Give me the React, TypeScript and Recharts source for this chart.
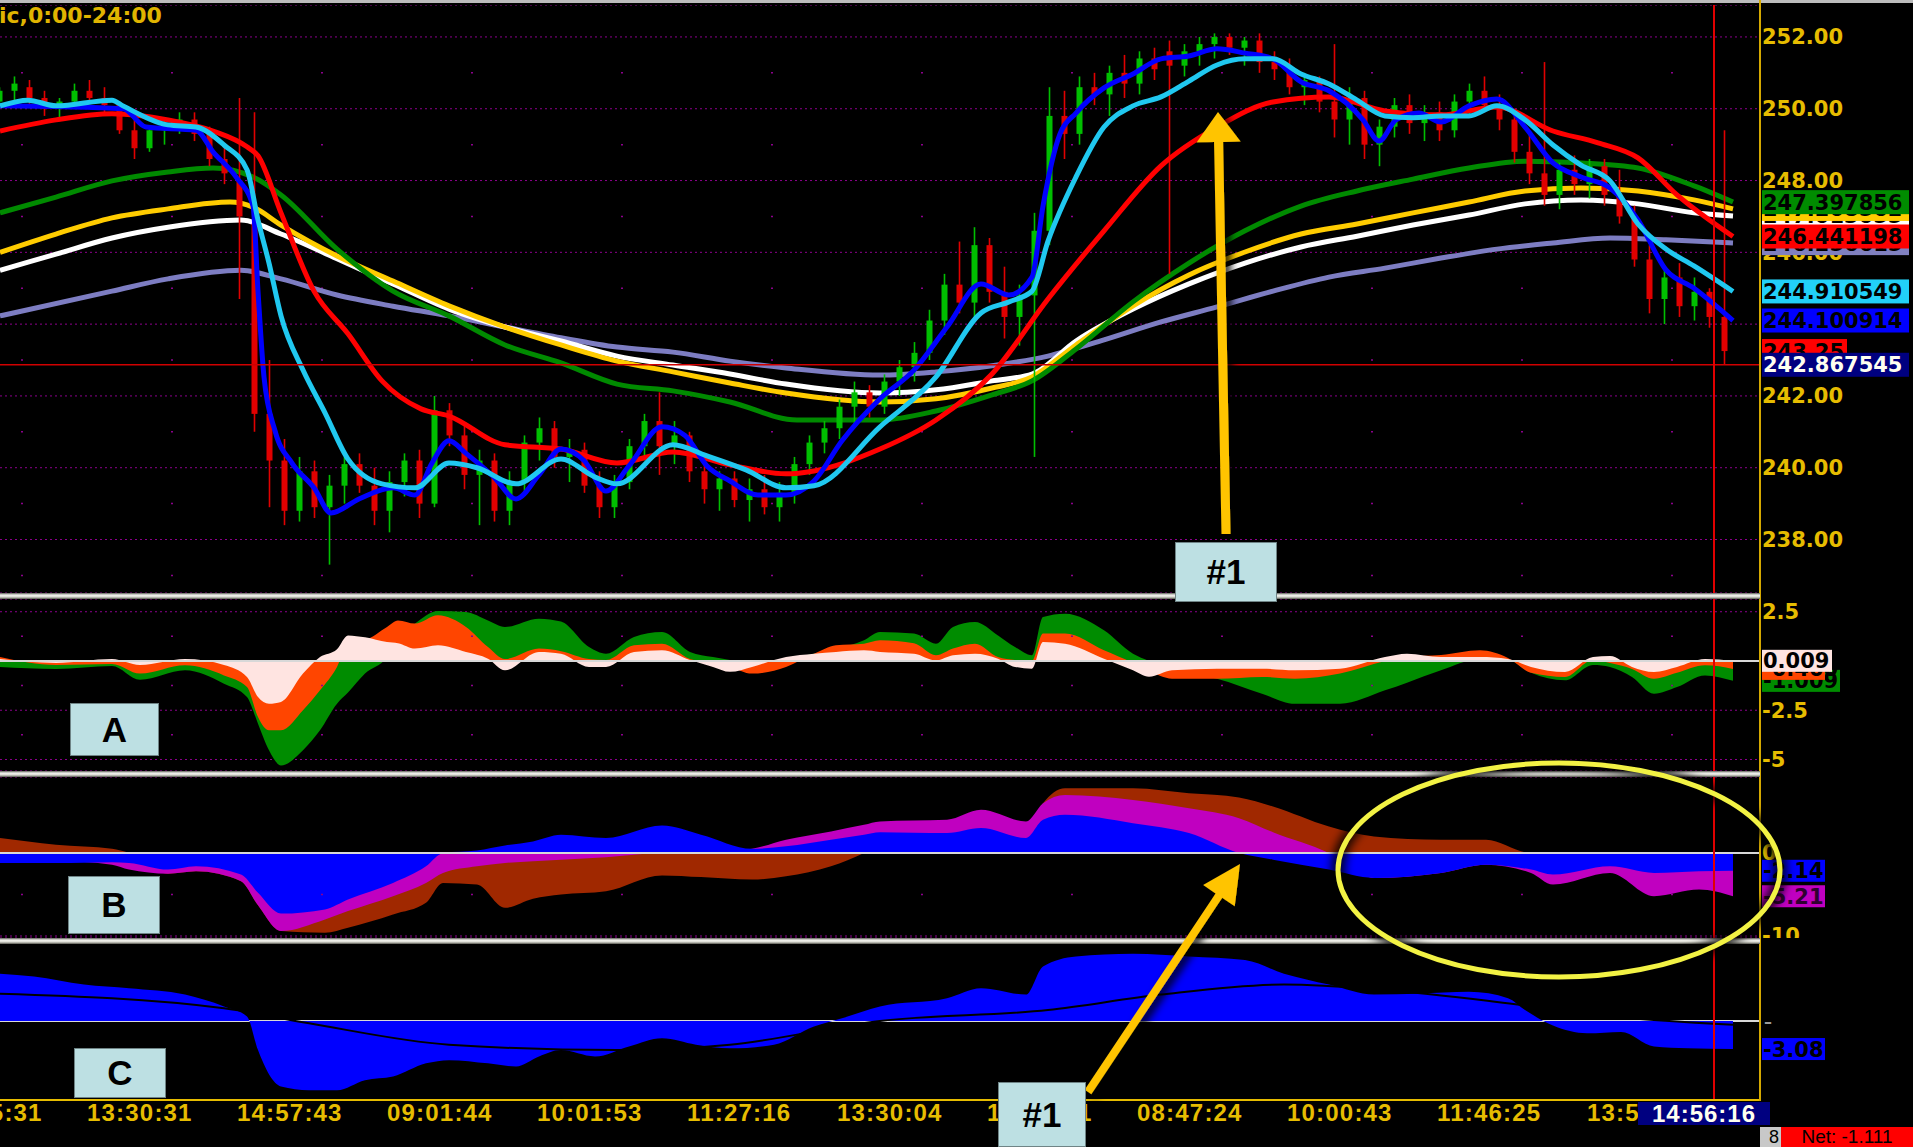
import React from 'react';
import { ComposedChart, Line, Area, Bar, XAxis, YAxis, CartesianGrid, ReferenceLine } from 'recharts';

// layout of the trading screen
const W = 1913;
const PLOT_W = 1760;
const AXIS_W = W - PLOT_W;
const X_DOMAIN: [number, number] = [0, 176];
const BAR_STEP = 1.5;
const CURSOR_T = 171.4;
const M0 = { top: 0, right: 0, bottom: 0, left: 0 };
const M_HIDDEN = { top: 0, right: AXIS_W, bottom: 0, left: 0 };

const GOLD = '#e6bc00';
const GRID = '#8c008c';
const UP = '#00bf00';
const DOWN = '#e00000';

type Pair = [number, number];

// price panel
const PRICE_DOMAIN: [number, number] = [236.51, 252.89];
const priceTicks = [238, 240, 242, 244, 246, 248, 250, 252];
const priceDotLevels = [237, 239, 241, 243, 245, 247, 249, 251];

// open, high, low, close
const candles: [number, number, number, number][] = [
  [250.2, 250.6, 250.0, 250.5], [250.5, 250.9, 250.2, 250.7], [250.6, 250.8, 250.1, 250.3], [250.3, 250.5, 249.8, 250.0],
  [250.0, 250.3, 249.7, 250.2], [250.2, 250.7, 250.0, 250.5], [250.5, 250.8, 250.2, 250.3], [250.3, 250.6, 249.9, 250.1],
  [250.1, 250.2, 249.3, 249.4], [249.4, 249.7, 248.6, 248.9], [248.9, 249.5, 248.8, 249.4], [249.4, 249.7, 249.0, 249.6],
  [249.6, 249.9, 249.3, 249.7], [249.7, 249.9, 249.1, 249.3], [249.3, 249.5, 248.4, 248.6], [248.6, 249.0, 247.9, 248.2],
  [248.0, 250.3, 244.7, 247.0], [246.8, 249.9, 241.0, 241.5], [241.5, 243.0, 238.9, 240.2], [240.2, 240.8, 238.4, 238.8],
  [238.8, 240.3, 238.5, 239.9], [239.9, 240.2, 238.6, 238.9], [238.9, 239.8, 237.3, 239.5], [239.5, 240.3, 239.0, 240.1],
  [240.1, 240.4, 239.3, 239.5], [239.5, 240.0, 238.4, 238.8], [238.8, 239.9, 238.2, 239.6], [239.6, 240.4, 239.2, 240.2],
  [240.2, 240.5, 238.6, 239.0], [239.0, 242.0, 238.9, 241.6], [241.6, 241.8, 240.6, 240.9], [240.9, 241.2, 239.4, 239.8],
  [239.8, 240.5, 238.4, 240.2], [240.2, 240.4, 238.5, 238.8], [238.8, 239.9, 238.4, 239.6], [239.6, 240.9, 239.3, 240.7],
  [240.7, 241.4, 240.2, 241.1], [241.1, 241.3, 240.0, 240.3], [240.3, 240.8, 239.6, 240.5], [240.5, 240.7, 239.3, 239.5],
  [239.5, 239.9, 238.6, 238.9], [238.9, 239.8, 238.6, 239.6], [239.6, 240.8, 239.4, 240.6], [240.6, 241.5, 240.2, 241.3],
  [241.3, 242.1, 239.8, 240.6], [240.6, 241.3, 240.1, 240.9], [240.9, 241.0, 239.6, 239.9], [239.9, 240.3, 239.0, 239.4],
  [239.4, 239.9, 238.8, 239.7], [239.7, 239.9, 238.9, 239.1], [239.1, 239.7, 238.5, 239.4], [239.4, 239.8, 238.7, 238.9],
  [238.9, 239.6, 238.5, 239.3], [239.3, 240.3, 239.0, 240.1], [240.1, 240.9, 239.8, 240.7], [240.7, 241.3, 240.4, 241.1],
  [241.1, 241.9, 240.8, 241.7], [241.7, 242.4, 241.2, 242.1], [242.1, 242.3, 241.4, 241.7], [241.7, 242.6, 241.5, 242.4],
  [242.4, 243.0, 242.0, 242.8], [242.8, 243.5, 242.4, 243.2], [243.2, 244.4, 243.0, 244.1], [244.1, 245.4, 243.7, 245.1],
  [245.1, 246.3, 244.3, 244.6], [244.6, 246.7, 244.2, 246.2], [246.2, 246.4, 244.6, 244.9], [244.9, 245.6, 243.6, 244.2],
  [244.2, 245.1, 243.4, 244.8], [244.8, 247.1, 240.3, 246.6], [246.6, 250.6, 246.2, 249.8], [249.8, 250.5, 248.6, 249.3],
  [249.3, 250.9, 249.0, 250.6], [250.6, 251.0, 250.1, 250.4], [250.4, 251.2, 249.8, 251.0], [251.0, 251.5, 250.3, 250.7],
  [250.7, 251.6, 250.4, 251.4], [251.4, 251.7, 250.8, 251.1], [251.6, 251.9, 245.4, 251.2], [251.2, 251.8, 250.9, 251.6],
  [251.6, 252.0, 251.2, 251.8], [251.8, 252.1, 251.4, 252.0], [252.0, 252.1, 251.5, 251.7], [251.7, 252.0, 251.2, 251.9],
  [251.9, 252.1, 251.0, 251.3], [251.3, 251.6, 250.8, 251.1], [251.1, 251.4, 250.4, 250.6], [250.6, 251.0, 250.1, 250.8],
  [250.8, 250.9, 249.9, 250.2], [250.2, 251.8, 249.2, 249.7], [249.7, 250.6, 249.0, 250.3], [250.3, 250.5, 248.6, 249.0],
  [249.0, 249.7, 248.4, 249.5], [249.5, 250.3, 249.2, 250.1], [250.1, 250.4, 249.3, 249.6], [249.6, 250.1, 249.1, 249.9],
  [249.9, 250.2, 249.1, 249.4], [249.4, 250.4, 249.2, 250.2], [250.2, 250.7, 249.8, 250.5], [250.5, 250.9, 249.9, 250.1],
  [250.1, 250.4, 249.4, 249.7], [249.7, 249.9, 248.5, 248.8], [248.8, 249.3, 247.9, 248.2], [248.2, 251.3, 247.3, 247.6],
  [247.6, 248.5, 247.2, 248.3], [248.3, 248.7, 247.6, 247.9], [247.9, 248.6, 247.5, 248.4], [248.4, 248.6, 247.3, 247.6],
  [247.6, 248.3, 246.8, 247.0], [247.0, 247.3, 245.6, 245.8], [245.8, 246.2, 244.3, 244.7], [244.7, 245.6, 244.0, 245.3],
  [245.3, 245.7, 244.2, 244.5], [244.5, 245.3, 244.1, 244.9], [244.9, 245.0, 243.9, 244.2], [244.2, 249.4, 242.87, 243.25],
];

// moving averages as [time, value]
const redMA: Pair[] = [
  [0, 249.38], [5.6, 249.69], [11.2, 249.86], [16.8, 249.69], [21.3, 249.38], [24.7, 248.94], [25.8, 248.69], [28.1, 247.1],
  [31.4, 244.92], [34.8, 243.73], [38.2, 242.42], [42.1, 241.64], [44.9, 241.44], [50.5, 240.64], [56.1, 240.52], [61.7, 240.13],
  [67.3, 240.44], [73, 240.08], [78.6, 239.83], [81.4, 239.91], [88, 240.52], [93.6, 241.33], [99.2, 242.61], [104.8, 244.7],
  [110.4, 246.6], [116.1, 248.41], [121.7, 249.49], [127.3, 250.19], [132.9, 250.33], [138.5, 249.94], [144.1, 249.83],
  [149.7, 250.05], [155.3, 249.38], [159.8, 249.05], [163.8, 248.63], [167.7, 247.6], [173.3, 246.44],
];
const cyanMA: Pair[] = [
  [0, 250.08], [2.8, 250.24], [5.6, 250.08], [11.2, 250.24], [12.3, 250.08], [16.8, 249.55], [19.6, 249.49], [22.4, 248.99],
  [24.7, 248.3], [25.8, 246.9], [26.9, 245.7], [28.1, 244.23], [30.3, 242.72], [32.5, 241.53], [34.8, 240.24], [38.2, 239.55],
  [41.5, 239.44], [44.9, 240.13], [47.7, 240.0], [51.6, 239.55], [56.1, 240.24], [59.5, 239.74], [61.7, 239.55], [67.3, 240.64],
  [70.7, 240.33], [74.6, 239.94], [78.6, 239.44], [81.4, 239.5], [88, 241.14], [93.6, 242.53], [98.1, 244.31], [100.9, 244.62],
  [103.2, 244.92], [104.8, 246.31], [107.6, 248.1], [110.4, 249.49], [113.3, 250.08], [116.1, 250.33], [118.9, 250.77],
  [121.7, 251.22], [124.5, 251.39], [127.3, 251.39], [130.1, 250.97], [132.9, 250.69], [135.7, 250.24], [138.5, 249.8],
  [141.3, 249.75], [144.1, 249.8], [146.9, 249.8], [149.7, 250.08], [152.5, 249.69], [155.3, 248.99], [158.1, 248.43],
  [161, 247.99], [163.8, 246.79], [166.6, 246.09], [169.4, 245.62], [173.3, 244.91],
];
const blueMA: Pair[] = [
  [0, 250.08], [12.3, 250.0], [14.6, 249.49], [19.6, 249.4], [21.3, 248.8], [23.6, 248.1], [25.3, 247.29], [25.8, 244.92],
  [26.4, 242.53], [27.5, 241.03], [29.2, 240.13], [31.4, 239.44], [33.1, 238.74], [35.9, 239.13], [39.3, 239.44], [41.5, 239.24],
  [43.2, 240.13], [44.9, 240.75], [46.6, 240.4], [49.4, 239.74], [51.6, 239.13], [53.9, 239.8], [56.1, 240.52], [58.4, 240.2],
  [60.6, 239.35], [62.9, 240.05], [66.2, 241.14], [68.5, 240.9], [70.7, 240.05], [73, 239.63], [75.8, 239.24], [78.6, 239.24],
  [81.4, 239.63], [84.2, 240.75], [88, 241.92], [91.4, 242.72], [94.7, 243.92], [98.1, 245.12], [100.9, 244.81], [103.2, 245.31],
  [104.3, 247.29], [106, 249.3], [107.6, 249.88], [110.4, 250.58], [113.3, 250.97], [116.1, 251.39], [118.9, 251.47],
  [121.7, 251.67], [124.5, 251.55], [127.3, 251.39], [130.1, 250.75], [132.9, 250.5], [136.3, 249.69], [137.9, 249.1],
  [139.6, 249.69], [141.9, 249.88], [144.1, 249.63], [146.9, 250.08], [149.7, 250.27], [152.5, 249.49], [155.3, 248.49],
  [158.1, 248.1], [161, 247.79], [163.8, 246.9], [166.6, 245.51], [169.4, 245.0], [173.3, 244.1],
];
const greenMA: Pair[] = [
  [0, 247.1], [5.6, 247.54], [11.2, 247.99], [16.8, 248.24], [21.3, 248.35], [25.3, 248.1], [28.1, 247.6], [33.7, 246.09],
  [39.3, 244.92], [44.9, 244.23], [50.5, 243.42], [56.1, 242.92], [61.7, 242.33], [67.3, 242.14], [73, 241.83], [79.7, 241.33],
  [88, 241.33], [93.6, 241.58], [99.2, 242.03], [103.2, 242.42], [107.6, 243.31], [113.3, 244.62], [118.9, 245.7], [124.5, 246.6],
  [130.1, 247.29], [135.7, 247.71], [141.3, 248.04], [146.9, 248.35], [152.5, 248.54], [158.1, 248.49], [163.8, 248.35],
  [169.4, 247.85], [173.3, 247.4],
];
const yellowMA: Pair[] = [
  [0, 246.0], [5.6, 246.51], [11.2, 246.96], [16.8, 247.21], [23, 247.4], [25.3, 247.26], [28.1, 246.76], [33.7, 245.9],
  [39.3, 245.2], [44.9, 244.51], [50.5, 243.92], [56.1, 243.42], [61.7, 242.97], [67.3, 242.67], [73, 242.36], [78.6, 242.08],
  [88, 241.83], [93.6, 241.92], [99.2, 242.22], [103.2, 242.53], [107.6, 243.42], [113.3, 244.51], [118.9, 245.37], [124.5, 246.01],
  [130.1, 246.51], [135.7, 246.79], [141.3, 247.1], [146.9, 247.4], [152.5, 247.71], [158.1, 247.79], [163.8, 247.71],
  [169.4, 247.46], [173.3, 247.21],
];
const whiteMA: Pair[] = [
  [0, 245.5], [5.6, 245.95], [11.2, 246.4], [16.8, 246.7], [24.1, 246.9], [28.1, 246.51], [33.7, 245.82], [39.3, 245.12],
  [44.9, 244.42], [50.5, 243.92], [56.1, 243.53], [61.7, 243.11], [67.3, 242.86], [73, 242.61], [78.6, 242.33], [88, 242.08],
  [93.6, 242.17], [99.2, 242.42], [103.2, 242.61], [107.6, 243.53], [113.3, 244.42], [118.9, 245.12], [124.5, 245.7],
  [130.1, 246.15], [135.7, 246.45], [141.3, 246.76], [146.9, 247.04], [152.5, 247.35], [158.1, 247.46], [163.8, 247.35],
  [169.4, 247.1], [173.3, 247.01],
];
const lavMA: Pair[] = [
  [0, 244.23], [11.2, 244.92], [16.8, 245.26], [24.1, 245.5], [28.1, 245.26], [33.7, 244.81], [39.3, 244.5], [44.9, 244.23],
  [50.5, 243.92], [56.1, 243.62], [61.7, 243.36], [67.3, 243.22], [73, 242.97], [78.6, 242.78], [88, 242.58], [93.6, 242.67],
  [99.2, 242.84], [104.8, 243.11], [110.4, 243.56], [116.1, 244.06], [121.7, 244.48], [127.3, 244.92], [132.9, 245.31],
  [138.5, 245.56], [144.1, 245.84], [149.7, 246.09], [155.3, 246.26], [161, 246.4], [166.6, 246.35], [173.3, 246.26],
];

// panel A
const A_DOMAIN: [number, number] = [-5.584, 3.147];
const aT = [0, 5.6, 11.2, 14, 18.5, 22.4, 24.7, 25.8, 26.9, 28.1, 30.3, 32, 33.7, 34.8, 36.5, 38.7, 39.8, 41.5, 43.8, 46.6,
  48.8, 50.5, 53.9, 56.1, 58.9, 60.6, 63.4, 66.2, 69, 71.3, 73, 75.2, 78.6, 81.4, 83.6, 86.4, 88, 91.4, 93.6, 95.3,
  97.5, 99.8, 101.5, 103.2, 104.3, 106.5, 110.4, 113.3, 114.9, 117.2, 121.7, 126.2, 129.5, 134, 138.5, 140.7, 144.1, 148, 150.8, 153.1,
  156.5, 159.3, 161, 163.2, 165.4, 167.7, 170.5, 173.3];
const aGreen = [-0.3, -0.4, -0.25, -0.95, -0.47, -1.15, -1.83, -3.18, -4.53, -5.3, -4.53, -3.52, -2.17, -1.6, -0.64, 0.2, 1.2, 1.9, 2.54, 2.49,
  2.06, 1.73, 2.15, 2.0, 0.71, 0.37, 1.22, 1.47, 0.46, 0.2, 0.05, -0.1, 0.1, 0.37, 0.6, 1.05, 1.47, 1.39, 0.88, 1.73,
  1.98, 1.3, 0.71, 0.29, 2.23, 2.4, 1.56, 0.37, 0, -0.5, -0.9, -1.66, -2.17, -2.17, -1.49, -1.1, -0.47, 0.1, 0.05, -0.6,
  -0.98, -0.2, -0.3, -0.81, -1.66, -1.32, -0.73, -1.009];
const aOrange = [0.2, -0.2, -0.15, -0.64, -0.22, -0.73, -1.32, -2.84, -3.52, -3.52, -2.5, -1.49, -0.3, 0.9, 1.05, 1.73, 2.06, 1.9, 2.32, 1.73,
  0.71, 0.1, 0.63, 0.5, 0.1, 0.05, 0.8, 0.88, 0.1, -0.1, -0.3, -0.64, -0.3, 0.37, 0.8, 0.88, 1.05, 0.9, 0.29, 0.63,
  0.88, 0.2, 0.05, 0, 1.39, 1.39, 0.54, -0.1, -0.5, -0.9, -0.9, -0.81, -0.9, -0.64, 0, 0.2, 0.3, 0.54, 0.15, -0.6,
  -0.81, 0.05, -0.1, -0.4, -0.9, -0.6, -0.22, -0.4];
const aPink = [0.1, -0.1, 0.1, -0.2, 0.1, -0.2, -0.81, -1.83, -2.17, -2.08, -0.64, 0.2, 0.6, 1.3, 1.2, 0.96, 0.9, 0.63, 0.8, 0.46,
  0.12, -0.47, 0.46, 0.37, -0.3, -0.3, 0.46, 0.54, 0.05, -0.3, -0.55, -0.3, 0.2, 0.37, 0.46, 0.54, 0.46, 0.37, 0.03, 0.29,
  0.37, 0.12, -0.3, -0.39, 0.96, 0.88, 0.12, -0.47, -0.8, -0.47, -0.39, -0.39, -0.47, -0.39, 0.2, 0.37, 0.2, 0.2, 0.1, -0.3,
  -0.56, 0.2, 0.25, -0.3, -0.56, -0.3, 0.1, 0.009];

// panel B
const B_DOMAIN: [number, number] = [-10.24, 9.157];
const bT = [0, 5.6, 11.2, 12.9, 16.8, 19.6, 24.1, 25.8, 28.1, 32.5, 34.8, 39.3, 42.6, 44.3, 47.7, 50.5, 53.3, 56.1, 60.6, 66.2,
  70.1, 75.2, 78.6, 83.1, 86.4, 88, 94.7, 98.1, 102.6, 104.3, 106.5, 113.3, 118.9, 123.9, 127.3, 132.9, 137.4, 144.1, 148.6, 153.1,
  155.3, 161, 165.4, 169.9, 173.3];
const bBrown = [1.8, 1.0, 0.5, 0, -2.5, -2.2, -3.4, -6.3, -9.4, -9.6, -9.0, -7.4, -6.0, -3.6, -3.8, -6.6, -5.5, -5.0, -4.6, -2.7,
  -2.9, -3.2, -2.8, -1.6, 0, 1.0, 2.0, 3.0, 2.5, 6.0, 7.8, 7.8, 7.2, 6.7, 5.6, 3.2, 2.0, 1.6, 1.6, 0,
  0, 0, 0, 0, 0];
const bMagenta = [-1.0, -1.0, -1.4, -2.0, -2.5, -2.2, -3.4, -6.3, -9.4, -8.0, -7.0, -5.2, -3.6, -2.4, -1.6, -1.2, -1.0, -0.8, -0.5, 0,
  0, 0.5, 1.6, 2.6, 3.4, 3.8, 4.0, 5.2, 3.8, 6.0, 7.0, 6.4, 5.4, 4.2, 2.5, 0, -3.0, -2.4, -1.4, -2.4,
  -3.8, -2.4, -5.2, -4.4, -5.21];
const bBlue = [-1.2, -1.2, -1.1, -1.2, -2.0, -1.6, -2.6, -4.8, -7.3, -6.8, -5.6, -3.6, -1.6, 0, 0.3, 0.9, 1.4, 2.2, 1.8, 3.3,
  2.2, 0.5, 0.8, 1.6, 2.2, 2.5, 2.4, 3.0, 1.8, 4.0, 4.6, 3.6, 2.4, 0, -0.8, -2.0, -3.0, -2.4, -1.4, -2.0,
  -2.6, -1.6, -2.4, -2.2, -2.14];

// panel C
const C_DOMAIN: [number, number] = [-8.68, 8.46];
const cHist: Pair[] = [
  [0, 5.2], [3.4, 4.9], [8.4, 4.0], [12.9, 3.6], [18.5, 2.9], [22.4, 1.6], [24.7, 0.5], [25.8, -3.2], [28.1, -7.2], [30.9, -7.6],
  [33.7, -7.6], [36.5, -6.5], [39.3, -6.1], [42.6, -4.65], [44.9, -4.3], [48.8, -4.65], [51.6, -5.0], [53.9, -3.9], [56.1, -3.2],
  [59.5, -3.9], [62.9, -2.8], [66.2, -1.9], [69.6, -2.6], [73, -3.0], [77.4, -2.6], [81.4, -0.6], [84.2, 0.3], [88, 1.6],
  [94.7, 2.5], [98.1, 3.6], [102.6, 2.9], [104.3, 6.0], [107.6, 7.1], [113.3, 7.4], [118.9, 7.1], [124.5, 6.7], [128.4, 5.2],
  [132.9, 4.0], [137.4, 2.9], [141.9, 3.0], [146.9, 3.2], [150.8, 2.5], [152.5, 1.2], [155.3, -0.5], [158.7, -1.35],
  [162.1, -1.2], [165.4, -2.8], [168.8, -3.0], [173.3, -3.08],
];
const cSignal: Pair[] = [
  [0, 3.0], [22.4, 1.4], [30.9, -0.25], [44.9, -2.6], [61.7, -3.2], [73, -2.6], [88, 0], [104.8, 1.2], [116.1, 2.9],
  [128.4, 4.0], [138.5, 3.4], [149.7, 2.1], [161, 0.5], [173.3, -0.4],
];

const timeTicks = [-6.3, 8.7, 23.7, 38.7, 53.7, 68.7, 83.7, 98.7, 113.7, 128.7, 143.7, 158.7];
const timeLabels = ['12:05:31', '13:30:31', '14:57:43', '09:01:44', '10:01:53', '11:27:16', '13:30:04', '14:58:51', '08:47:24', '10:00:43', '11:46:25', '13:54:10'];

function mergePairs(series: Record<string, Pair[]>) {
  const rows = new Map<number, any>();
  Object.entries(series).forEach(([key, pairs]) => {
    pairs.forEach(([t, v]) => {
      const row = rows.get(t) ?? { t };
      row[key] = v;
      rows.set(t, row);
    });
  });
  return [...rows.values()].sort((a, b) => a.t - b.t);
}

const tickFont = { fill: GOLD, fontSize: 21, fontWeight: 700, fontFamily: 'DejaVu Sans' };

const Candle = (props: any) => {
  const { x, y, width, height, payload } = props;
  if (!payload || payload.o == null || !isFinite(y) || !isFinite(height)) return <g />;
  const top = height >= 0 ? y : y + height;
  const h = Math.abs(height);
  const span = payload.h - payload.l || 1;
  const py = (v: number) => top + ((payload.h - v) / span) * h;
  const color = payload.c >= payload.o ? UP : DOWN;
  const cx = x + width / 2;
  const bTop = py(Math.max(payload.o, payload.c));
  const bBot = py(Math.min(payload.o, payload.c));
  return (
    <g>
      <line x1={cx} x2={cx} y1={top} y2={top + h} stroke={color} strokeWidth={1.6} />
      <rect x={x} y={bTop} width={width} height={Math.max(bBot - bTop, 2)} fill={color} />
    </g>
  );
};

const Tag = ({ viewBox, text, bg, fg = '#000', w, h = 24 }: any) => {
  if (!viewBox) return null;
  const x = viewBox.x + viewBox.width + 2;
  const y = viewBox.y;
  return (
    <g>
      <rect x={x} y={y - h / 2} width={w} height={h} fill={bg} />
      <text x={x + 1} y={y + 7.5} fill={fg} fontSize={21} fontWeight={700} fontFamily="DejaVu Sans">{text}</text>
    </g>
  );
};

const TimeTick = ({ x, y, payload }: any) => {
  const i = timeTicks.indexOf(payload.value);
  return (
    <text x={x} y={y + 21} fill={GOLD} fontSize={24} fontWeight={700} fontFamily="Liberation Sans, Arial" letterSpacing={1.2} textAnchor="start">
      {timeLabels[i] ?? ''}
    </text>
  );
};

const cursor = <ReferenceLine x={CURSOR_T} stroke="#e00000" strokeWidth={2} />;

function dotLines(levels: number[]) {
  return levels.map((v) => (
    <ReferenceLine key={`dot-${v}`} y={v} stroke={GRID} strokeWidth={1.5} strokeDasharray="2 148" strokeDashoffset={63} />
  ));
}

const Sep = ({ top }: { top: number }) => (
  <div style={{ position: 'absolute', left: 0, top, width: PLOT_W, height: 6, background: 'linear-gradient(#5e5e58, #f2f2ee 35%, #dcdcd4 65%, #55554e)' }} />
);

const Note = ({ left, top, w, h, text }: any) => (
  <div style={{ position: 'absolute', left, top, width: w, height: h, background: '#bde0e3', border: '1px solid #6f8486', boxSizing: 'border-box', display: 'flex', alignItems: 'center', justifyContent: 'center', fontFamily: 'Liberation Sans, Arial, sans-serif', fontWeight: 700, fontSize: 35, color: '#000' }}>
    {text}
  </div>
);

function arrowPoints(x1: number, y1: number, x2: number, y2: number, shaft: number, headLen: number, headHalf: number) {
  const len = Math.hypot(x2 - x1, y2 - y1);
  const ux = (x2 - x1) / len;
  const uy = (y2 - y1) / len;
  const nx = -uy;
  const ny = ux;
  const bx = x2 - ux * headLen;
  const by = y2 - uy * headLen;
  const pts = [
    [x1 + nx * shaft, y1 + ny * shaft], [bx + nx * shaft, by + ny * shaft], [bx + nx * headHalf, by + ny * headHalf], [x2, y2],
    [bx - nx * headHalf, by - ny * headHalf], [bx - nx * shaft, by - ny * shaft], [x1 - nx * shaft, y1 - ny * shaft],
  ];
  return pts.map((p) => p.join(',')).join(' ');
}

export default function App() {
  const backRows = mergePairs({ lav: lavMA, white: whiteMA, yellow: yellowMA, green: greenMA });
  const frontRows = mergePairs({ red: redMA, blue: blueMA, cyan: cyanMA });
  const candleRows = candles.map(([o, h, l, c], i) => ({ t: i * BAR_STEP, o, h, l, c, range: [l, h] }));
  const aRows = aT.map((t, i) => ({ t, green: aGreen[i], orange: aOrange[i], pink: aPink[i] }));
  const bRows = bT.map((t, i) => ({ t, brown: bBrown[i], magenta: bMagenta[i], blue: bBlue[i] }));
  const cRows = mergePairs({ hist: cHist, sig: cSignal });

  const maLine = (key: string, color: string) => (
    <Line key={key} dataKey={key} type="monotone" stroke={color} strokeWidth={5} dot={false} activeDot={false} connectNulls isAnimationActive={false} />
  );
  const hiddenX = <XAxis type="number" dataKey="t" domain={X_DOMAIN} allowDataOverflow hide />;

  return (
    <div style={{ position: 'relative', width: W, height: 1147, background: '#000', overflow: 'hidden' }}>
      <style>{'body{margin:0;background:#000}'}</style>

      {/* price panel: grid, axis, slow averages */}
      <div style={{ position: 'absolute', left: 0, top: 5 }}>
        <ComposedChart width={W} height={588} data={backRows} margin={M0}>
          <CartesianGrid vertical={false} stroke={GRID} strokeDasharray="2 3" />
          {hiddenX}
          <YAxis orientation="right" width={AXIS_W} domain={PRICE_DOMAIN} ticks={priceTicks} allowDataOverflow interval={0}
            axisLine={false} tickLine={false} tickSize={0} tickMargin={2} tick={tickFont} tickFormatter={(v: number) => v.toFixed(2)} />
          {dotLines(priceDotLevels)}
          {maLine('lav', '#7d7dc2')}
          {maLine('white', '#ffffff')}
          {maLine('yellow', '#ffcc00')}
          {maLine('green', '#008a00')}
        </ComposedChart>
      </div>

      {/* candles */}
      <div style={{ position: 'absolute', left: 0, top: 5 }}>
        <ComposedChart width={W} height={588} data={candleRows} margin={M_HIDDEN}>
          {hiddenX}
          <YAxis domain={PRICE_DOMAIN} allowDataOverflow hide />
          <Bar dataKey="range" barSize={6} shape={(p: any) => <Candle {...p} />} isAnimationActive={false} />
        </ComposedChart>
      </div>

      {/* fast averages and price tags */}
      <div style={{ position: 'absolute', left: 0, top: 5 }}>
        <ComposedChart width={W} height={588} data={frontRows} margin={M_HIDDEN}>
          {hiddenX}
          <YAxis domain={PRICE_DOMAIN} allowDataOverflow hide />
          {maLine('red', '#ff0000')}
          {maLine('blue', '#0000ff')}
          {maLine('cyan', '#20c8f0')}
          <ReferenceLine y={242.867545} stroke="#d00000" strokeWidth={1.5} />
          {cursor}
          <ReferenceLine y={246.256615} stroke="none" label={<Tag text="246.256615" bg="#8080c0" w={147} />} />
          <ReferenceLine y={247.013055} stroke="none" label={<Tag text="247.013055" bg="#ffffff" w={147} />} />
          <ReferenceLine y={247.208562} stroke="none" label={<Tag text="247.208562" bg="#ffcc00" w={147} />} />
          <ReferenceLine y={247.397856} stroke="none" label={<Tag text="247.397856" bg="#008c00" w={147} />} />
          <ReferenceLine y={246.441198} stroke="none" label={<Tag text="246.441198" bg="#ff0000" w={147} />} />
          <ReferenceLine y={244.910549} stroke="none" label={<Tag text="244.910549" bg="#22d0f8" w={147} />} />
          <ReferenceLine y={244.100914} stroke="none" label={<Tag text="244.100914" bg="#0000ff" w={147} />} />
          <ReferenceLine y={243.25} stroke="none" label={<Tag text="243.25" bg="#ff0000" w={85} />} />
          <ReferenceLine y={242.867545} stroke="none" label={<Tag text="242.867545" bg="#000080" fg="#fffff0" w={147} />} />
        </ComposedChart>
      </div>

      {/* panel A */}
      <div style={{ position: 'absolute', left: 0, top: 599 }}>
        <ComposedChart width={W} height={172} data={aRows} margin={M0}>
          <CartesianGrid vertical={false} stroke={GRID} strokeDasharray="2 3" />
          {hiddenX}
          <YAxis orientation="right" width={AXIS_W} domain={A_DOMAIN} ticks={[2.5, 0, -2.5, -5]} allowDataOverflow interval={0}
            axisLine={false} tickLine={false} tickSize={0} tickMargin={2} tick={tickFont} tickFormatter={(v: number) => (v === 0 ? '' : String(v))} />
          {dotLines([1.25, -1.25, -3.75])}
          <Area dataKey="green" type="monotone" baseValue={0} stroke="none" fill="#008c00" fillOpacity={1} isAnimationActive={false} />
          <Area dataKey="orange" type="monotone" baseValue={0} stroke="none" fill="#ff4500" fillOpacity={1} isAnimationActive={false} />
          <Area dataKey="pink" type="monotone" baseValue={0} stroke="none" fill="#ffe4e1" fillOpacity={1} isAnimationActive={false} />
          <ReferenceLine y={0} stroke="#d8d8d8" strokeWidth={2} />
          {cursor}
          <ReferenceLine y={-1.009} stroke="none" label={<Tag text="-1.009" bg="#008c00" w={78} h={22} />} />
          <ReferenceLine y={-0.4} stroke="none" label={<Tag text="-0.400" bg="#ff4500" w={63} h={22} />} />
          <ReferenceLine y={0.009} stroke="none" label={<Tag text="0.009" bg="#ffe4e1" w={70} h={22} />} />
        </ComposedChart>
      </div>

      {/* panel B */}
      <div style={{ position: 'absolute', left: 0, top: 777 }}>
        <ComposedChart width={W} height={161} data={bRows} margin={M0}>
          <CartesianGrid vertical={false} stroke={GRID} strokeDasharray="2 3" />
          {hiddenX}
          <YAxis orientation="right" width={AXIS_W} domain={B_DOMAIN} ticks={[0, -10]} allowDataOverflow interval={0}
            axisLine={false} tickLine={false} tickSize={0} tickMargin={2} tick={tickFont} />
          {dotLines([-5])}
          <ReferenceLine y={0} stroke="#d8d8d8" strokeWidth={2} />
          <Area dataKey="brown" type="monotone" baseValue={0} stroke="none" fill="#a02800" fillOpacity={1} isAnimationActive={false} />
          <Area dataKey="magenta" type="monotone" baseValue={0} stroke="none" fill="#c000c0" fillOpacity={1} isAnimationActive={false} />
          <Area dataKey="blue" type="monotone" baseValue={0} stroke="none" fill="#0000ff" fillOpacity={1} isAnimationActive={false} />
          {cursor}
          <ReferenceLine y={-2.14} stroke="none" label={<Tag text="-2.14" bg="#0000ff" w={63} h={22} />} />
          <ReferenceLine y={-5.21} stroke="none" label={<Tag text="-5.21" bg="#c000c0" fg="#300030" w={63} h={22} />} />
        </ComposedChart>
      </div>

      {/* panel C zero line, drawn beneath the histogram */}
      <div style={{ position: 'absolute', left: 0, top: 944 }}>
        <ComposedChart width={W} height={156} data={cRows} margin={M_HIDDEN}>
          {hiddenX}
          <YAxis domain={C_DOMAIN} allowDataOverflow hide />
          <ReferenceLine y={0} stroke="#d8d8d8" strokeWidth={2} />
        </ComposedChart>
      </div>

      {/* panel C with time axis */}
      <div style={{ position: 'absolute', left: 0, top: 944 }}>
        <ComposedChart width={W} height={203} data={cRows} margin={M0}>
          <XAxis type="number" dataKey="t" domain={X_DOMAIN} allowDataOverflow ticks={timeTicks} interval={0} height={47}
            tick={<TimeTick />} tickLine={false} tickSize={0} tickMargin={0} axisLine={{ stroke: GOLD, strokeWidth: 2 }} />
          <YAxis orientation="right" width={AXIS_W} domain={C_DOMAIN} ticks={[0]} allowDataOverflow interval={0}
            axisLine={false} tickLine={false} tickSize={0} tickMargin={4}
            tick={{ ...tickFont, fill: '#9a9a9a', fontSize: 16 }} tickFormatter={() => '–'} />
          <Area dataKey="hist" type="monotone" baseValue={0} stroke="none" fill="#0000ff" fillOpacity={1} connectNulls isAnimationActive={false} />
          <Line dataKey="sig" type="monotone" stroke="#000" strokeWidth={2} dot={false} activeDot={false} connectNulls isAnimationActive={false} />
          {cursor}
          <ReferenceLine y={-3.08} stroke="none" label={<Tag text="-3.08" bg="#0000ff" w={63} h={22} />} />
        </ComposedChart>
      </div>

      {/* frame pieces */}
      <div style={{ position: 'absolute', left: 0, top: 0, width: W, height: 3, background: '#bcbcbc' }} />
      <div style={{ position: 'absolute', left: PLOT_W - 1, top: 0, width: 2, height: 1101, background: '#d4a800' }} />
      <Sep top={593} />
      <Sep top={771} />
      <Sep top={938} />

      <div style={{ position: 'absolute', left: -1, top: 3, fontFamily: 'DejaVu Sans', fontWeight: 700, fontSize: 22, color: '#e0b400' }}>ic,0:00-24:00</div>

      <div style={{ position: 'absolute', left: 1638, top: 1102, width: 132, height: 23, background: '#000080', color: '#fffff0', fontFamily: 'Liberation Sans, Arial', fontWeight: 700, fontSize: 24, letterSpacing: 1, lineHeight: '23px', textAlign: 'center' }}>14:56:16</div>
      <div style={{ position: 'absolute', left: 1760, top: 1127, width: 21, height: 20, background: '#c8c8c8', overflow: 'hidden', fontFamily: 'Liberation Sans, Arial', fontSize: 18, lineHeight: '20px', color: '#000', textAlign: 'right' }}>
        <span style={{ marginRight: 2 }}>8</span>
      </div>
      <div style={{ position: 'absolute', left: 1781, top: 1127, width: 132, height: 20, background: '#ff0000', fontFamily: 'Liberation Sans, Arial', fontSize: 19, lineHeight: '20px', color: '#000', textAlign: 'center' }}>Net: -1.111</div>

      {/* annotations */}
      <svg width={W} height={1147} style={{ position: 'absolute', left: 0, top: 0, pointerEvents: 'none' }}>
        <defs>
          <filter id="shade" x="-30%" y="-30%" width="160%" height="160%">
            <feDropShadow dx="5" dy="3" stdDeviation="4" floodColor="#000" floodOpacity="0.95" />
          </filter>
          <filter id="halo" x="-20%" y="-20%" width="140%" height="140%">
            <feGaussianBlur stdDeviation="4" />
          </filter>
        </defs>
        <polygon points={arrowPoints(1226, 534, 1218, 112, 4.5, 30, 22)} fill="#ffc400" filter="url(#shade)" />
        <polygon points={arrowPoints(1088, 1092, 1240, 864, 4, 38, 19)} fill="#ffc400" filter="url(#shade)" />
        <ellipse cx={1559} cy={870} rx={221} ry={107} fill="none" stroke="#000" strokeOpacity={0.8} strokeWidth={14} filter="url(#halo)" />
        <ellipse cx={1559} cy={870} rx={221} ry={107} fill="none" stroke="#f2f244" strokeWidth={5} />
      </svg>

      <Note left={70} top={703} w={89} h={53} text="A" />
      <Note left={68} top={876} w={92} h={58} text="B" />
      <Note left={74} top={1048} w={92} h={50} text="C" />
      <Note left={1175} top={542} w={102} h={60} text="#1" />
      <Note left={998} top={1082} w={88} h={65} text="#1" />
    </div>
  );
}
